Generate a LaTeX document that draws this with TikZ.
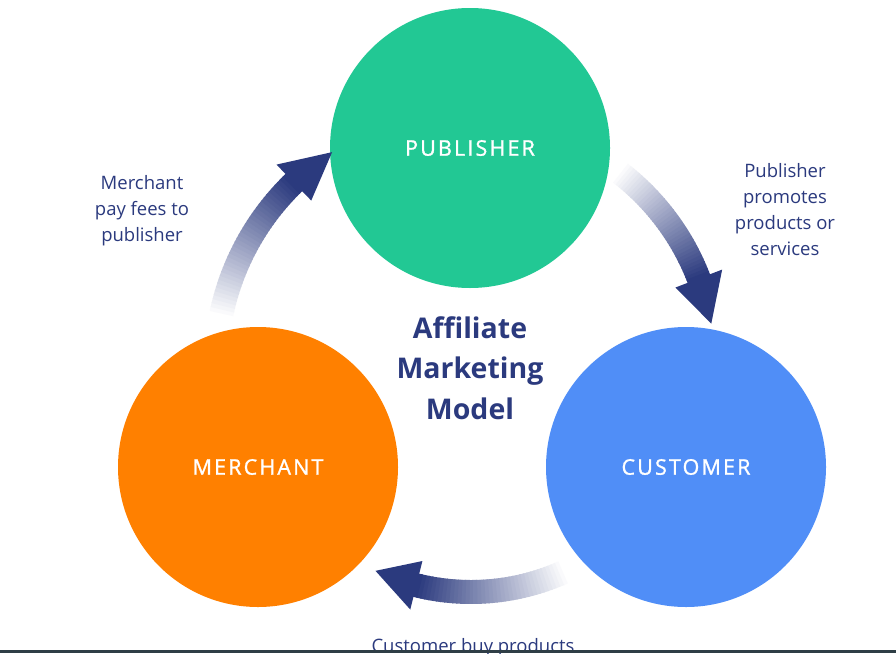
\documentclass[tikz,border=0pt]{standalone}
\usepackage{fontspec}
\setmainfont{Open Sans}
\newfontfamily\spaced[LetterSpace=10,FakeBold=1.2]{Open Sans}
\definecolor{pubgreen}{RGB}{34,200,148}
\definecolor{merorange}{RGB}{255,128,0}
\definecolor{custblue}{RGB}{80,142,247}
\definecolor{navy}{RGB}{43,58,126}
\definecolor{edgeline}{RGB}{47,62,70}
\tikzset{
  party/.style={circle,minimum size=280pt,inner sep=0pt,text=white,font=\spaced\fontsize{21.5}{24}\selectfont},
  note/.style={align=center,text=navy,font=\fontsize{18.5}{26}\selectfont},
}
\newcommand{\myarrow}[4]{% a0, a1 shaft end, a2 tip, r
  \foreach \i in {0,...,39}{
    \pgfmathsetmacro{\aa}{#1+(#2-#1)*\i/40}
    \pgfmathsetmacro{\ab}{#1+(#2-#1)*(\i+1.3)/40}
    \pgfmathsetmacro{\pc}{\i*100/39}
    \draw[line width=24pt,navy!\pc!white] ({471+#4*cos(\aa)},{366+#4*sin(\aa)}) arc[start angle=\aa,end angle=\ab,radius=#4];
  }
  \fill[navy] ({471+(#4+25)*cos(#2)},{366+(#4+25)*sin(#2)}) -- ({471+(#4-25)*cos(#2)},{366+(#4-25)*sin(#2)}) -- ({471+#4*cos(#3)},{366+#4*sin(#3)}) -- cycle;
}
\begin{document}
\begin{tikzpicture}[x=1pt,y=-1pt]
\useasboundingbox (0,0) rectangle (896,653);
\fill[white] (0,0) rectangle (896,653);
\node[party,fill=pubgreen] (pub) at (470,148) {PUBLISHER};
\node[party,fill=merorange] (mer) at (258,467) {MERCHANT};
\node[party,fill=custblue] (cus) at (686,467) {CUSTOMER};
\node[note,font=\bfseries\fontsize{28.5}{40.5}\selectfont] (title) at (470,368) {Affiliate\\Marketing\\Model};
\node[note] (n1) at (142,211) {Merchant\\pay fees to\\publisher};
\node[note] (n2) at (785,210) {Publisher\\promotes\\products or\\services};
\node[note,anchor=base] (n3) at (473,652) {Customer buy products};
\myarrow{191}{226}{237}{255}
\myarrow{-53}{-21}{-10}{244}
\myarrow{65}{104}{115}{226}
\draw[edgeline,line width=2.5pt] (0,651.5) -- (896,651.5);
\end{tikzpicture}
\end{document}
